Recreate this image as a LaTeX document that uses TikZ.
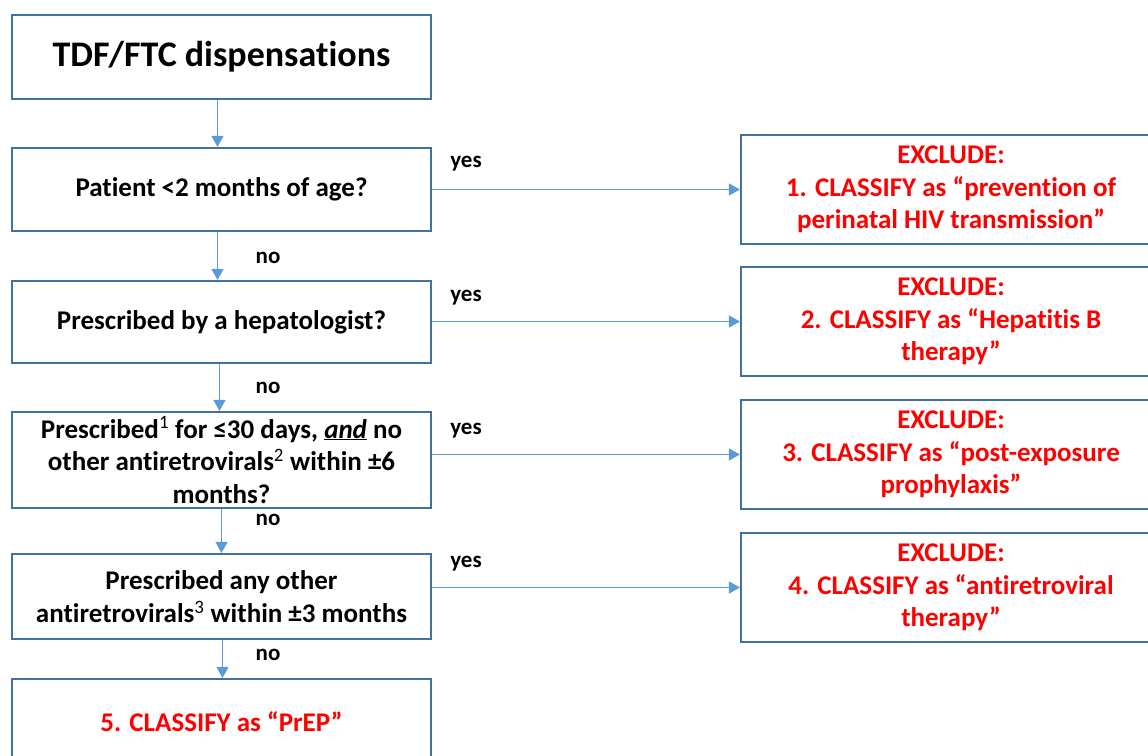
\documentclass[tikz,border=0pt]{standalone}
\usepackage{fontspec}
\setmainfont{Carlito}[Ligatures=NoCommon]
\usetikzlibrary{arrows.meta}

\definecolor{boxblue}{RGB}{65,113,156}
\definecolor{arrowblue}{RGB}{91,155,213}
\definecolor{exred}{RGB}{255,0,0}

\tikzset{
	stepbox/.style={draw=boxblue,line width=2.2pt,rectangle,inner sep=0pt,
		minimum width=419pt,align=center,
		font=\fontsize{27}{32.5}\selectfont\bfseries},
	titlebox/.style={stepbox,font=\fontsize{36}{43}\selectfont\bfseries},
	excbox/.style={stepbox,minimum width=420pt,minimum height=109pt,text=exred},
	arr/.style={draw=arrowblue,line width=1.3pt,-{Triangle[length=11pt,width=12pt]}},
	lbl/.style={inner sep=0pt,font=\fontsize{23}{27}\selectfont\bfseries}
}

\begin{document}
\begin{tikzpicture}[x=1pt,y=-1pt]
	\path[use as bounding box,clip] (0,0) rectangle (1148,755);
	% left column
	\node[titlebox,minimum height=84pt] (b0) at (221.5,57) {TDF/FTC dispensations};
	\node[stepbox,minimum height=83pt] (b1) at (221.5,189.5) {Patient <2 months of age?};
	\node[stepbox,minimum height=82pt] (b2) at (221.5,322) {Prescribed by a hepatologist?};
	\node[stepbox,minimum height=96pt] (b3) at (221.5,460)
		{Prescribed\textsuperscript{\mdseries 1} for ≤30 days, \underline{\textit{and}} no\\
		 other antiretrovirals\textsuperscript{\mdseries 2} within ±6\\ months?};
	\node[stepbox,minimum height=85pt] (b4) at (221.5,596.5)
		{Prescribed any other\\ antiretrovirals\textsuperscript{\mdseries 3} within ±3 months};
	\node[stepbox,minimum height=86pt,text=exred] (b5) at (221.5,722) {5. CLASSIFY as “PrEP”};
	% right column
	\node[excbox] (r1) at (951,189.5) {EXCLUDE:\\ 1. CLASSIFY as “prevention of\\ perinatal HIV transmission”};
	\node[excbox] (r2) at (951,321.5) {EXCLUDE:\\ 2. CLASSIFY as “Hepatitis B\\ therapy”};
	\node[excbox] (r3) at (951,454.5) {EXCLUDE:\\ 3. CLASSIFY as “post-exposure\\ prophylaxis”};
	\node[excbox] (r4) at (951,587.5) {EXCLUDE:\\ 4. CLASSIFY as “antiretroviral\\ therapy”};
	%%%%%%%%%%%%%%%%%%%%%%%%%%%%%%%%%%%%%%%%%%%%%%%%
	\draw[arr] ([xshift=-4pt]b0.south) -- ([xshift=-4pt]b1.north);
	\draw[arr] ([xshift=-4pt]b1.south) -- ([xshift=-4pt]b2.north);
	\draw[arr] ([xshift=-2pt]b2.south) -- ([xshift=-2pt]b3.north);
	\draw[arr] (b3.south) -- (b4.north);
	\draw[arr] ([xshift=1pt]b4.south) -- ([xshift=1pt]b5.north);
	\draw[arr] (b1.east |- r1.west) -- (r1.west);
	\draw[arr] (b2.east |- r2.west) -- (r2.west);
	\draw[arr] (b3.east |- r3.west) -- (r3.west);
	\draw[arr] (b4.east |- r4.west) -- (r4.west);
	%%%%%%%%%%%%%%%%%%%%%%%%%%%%%%%%%%%%%%%%%%%%%%%%
	\node[lbl] (y1) at (466,164) {yes};
	\node[lbl] (y2) at (466,298) {yes};
	\node[lbl] (y3) at (466,431) {yes};
	\node[lbl] (y4) at (466,564) {yes};
	\node[lbl] (n1) at (268,258) {no};
	\node[lbl] (n2) at (268,388) {no};
	\node[lbl] (n3) at (268,520) {no};
	\node[lbl] (n4) at (268,655) {no};
\end{tikzpicture}
\end{document}
